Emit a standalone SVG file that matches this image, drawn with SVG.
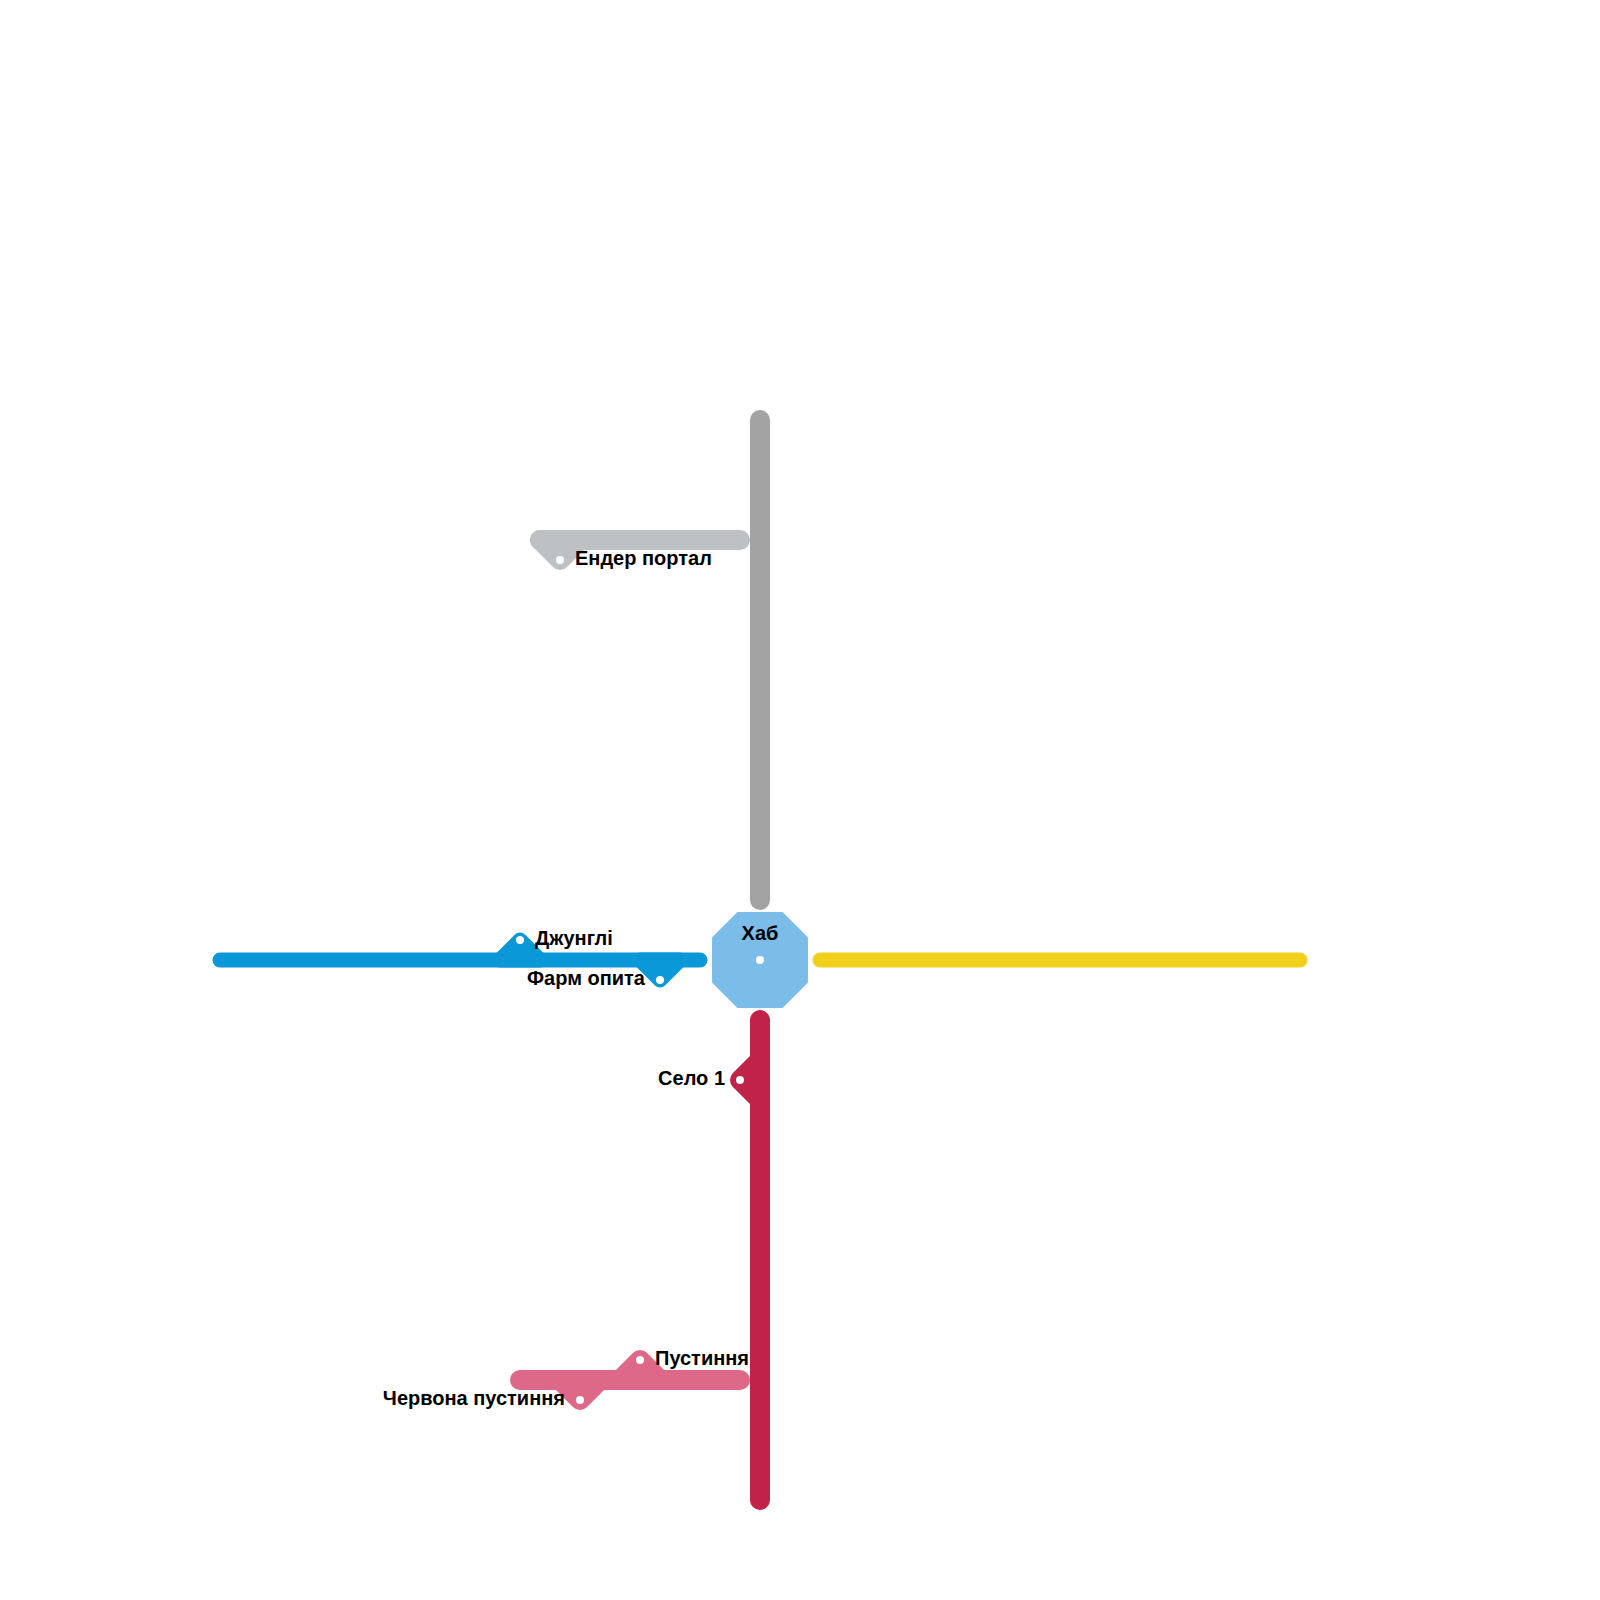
<svg xmlns="http://www.w3.org/2000/svg" width="1600" height="1600" viewBox="0 0 1600 1600">
<style>
.l{fill:none;stroke-linecap:round;stroke-linejoin:round}
.w20{stroke-width:20}
.w15{stroke-width:15}
.d{fill:#fff}
text{font-family:"Liberation Sans",Arial,sans-serif;font-weight:bold;font-size:20px;fill:#000}
</style>
<rect width="1600" height="1600" fill="#fff"/>
<g id="connectors">
<path class="l w20" stroke="#a3a3a3" d="M760 420V900"/>
<path class="l w20" stroke="#bdc1c4" style="fill:#bdc1c4" d="M540 540L560 560L580 540Z"/>
<path class="l w20" stroke="#bdc1c4" d="M740 540H540"/>
<path class="l w15" stroke="#0a98d8" style="fill:#0a98d8" d="M500 960L520 940L540 960ZM640 960L660 980L680 960Z"/>
<path class="l w15" stroke="#0a98d8" d="M220 960H700"/>
<path class="l w15" stroke="#f0d01a" d="M820 960H1300"/>
<path class="l w20" stroke="#c12248" d="M760 1020V1500M760 1060L740 1080L760 1100"/>
<path class="l w20" stroke="#dd6888" d="M520 1380H740M620 1380L640 1360L660 1380M560 1380L580 1400L600 1380"/>
</g>
<g id="hub">
<polygon fill="#7bbde8" stroke="#7bbde8" stroke-width="3" stroke-linejoin="round" points="738,913.500 782,913.500 806.500,938 806.500,982 782,1006.500 738,1006.500 713.500,982 713.500,938"/>
<circle class="d" cx="760" cy="960" r="4"/>
<text x="760" y="940" text-anchor="middle">Хаб</text>
</g>
<g id="ender"><circle class="d" cx="560" cy="560" r="4"/><text x="575" y="565">Ендер портал</text></g>
<g id="jungle"><circle class="d" cx="520" cy="940" r="4"/><text x="535" y="945">Джунглі</text></g>
<g id="farm"><circle class="d" cx="660" cy="980" r="4"/><text x="645" y="985" text-anchor="end">Фарм опита</text></g>
<g id="village"><circle class="d" cx="740" cy="1080" r="4"/><text x="725" y="1085" text-anchor="end">Село 1</text></g>
<g id="desert"><circle class="d" cx="640" cy="1360" r="4"/><text x="655" y="1365">Пустиння</text></g>
<g id="reddesert"><circle class="d" cx="580" cy="1400" r="4"/><text x="565" y="1405" text-anchor="end">Червона пустиння</text></g>
</svg>
